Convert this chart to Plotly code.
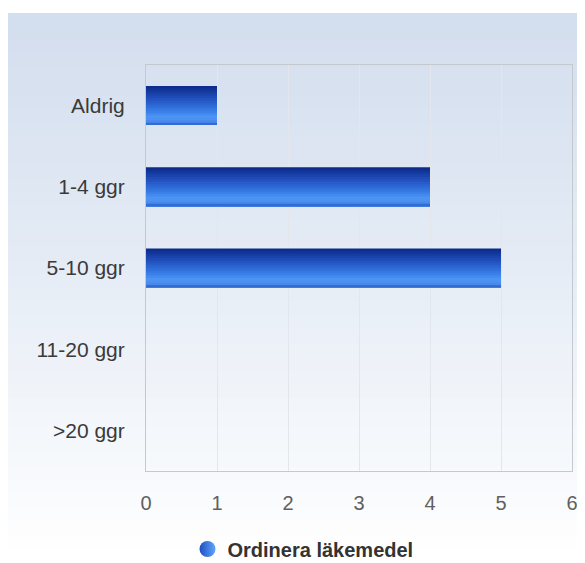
import plotly.graph_objects as go

# Data
categories = ["Aldrig", "1-4 ggr", "5-10 ggr", "11-20 ggr", ">20 ggr"]
values = [1, 4, 5, 0, 0]
series_name = "Ordinera läkemedel"
x_ticks = [0, 1, 2, 3, 4, 5, 6]


def mix(c1, c2, t):
    a = [int(c1[i:i + 2], 16) for i in (1, 3, 5)]
    b = [int(c2[i:i + 2], 16) for i in (1, 3, 5)]
    return "#%02x%02x%02x" % tuple(round(a[k] + (b[k] - a[k]) * t) for k in range(3))


# vertical colour stops of the bar gradient (0 = top edge, 1 = bottom edge)
stops = [(0.0, "#0b2888"), (0.35, "#2354c2"), (0.6, "#3478e2"),
         (0.8, "#4e96f6"), (0.9, "#4a8cee"), (1.0, "#2a5ec8")]


def grad_color(t):
    for (t0, c0), (t1, c1) in zip(stops, stops[1:]):
        if t <= t1:
            return mix(c0, c1, (t - t0) / (t1 - t0))
    return stops[-1][1]


fig = go.Figure()

# gradient bars: stacked overlays, each one covering from its band down to the bar bottom
bar_w = 0.48
n_bands = 16
band = bar_w / n_bands
for i in range(n_bands):
    t = (i + 0.5) / n_bands
    fig.add_trace(go.Bar(
        x=values,
        y=categories,
        orientation="h",
        width=bar_w - i * band,
        offset=-bar_w / 2,
        marker=dict(color=grad_color(t), line=dict(width=0)),
        showlegend=False,
        hoverinfo="x+y" if i == 0 else "skip",
        name=series_name,
    ))

# legend entry with round marker
fig.add_trace(go.Scatter(
    x=[None], y=[None], mode="markers", name=series_name,
    marker=dict(symbol="circle", size=21, color="#1e4fc0",
                gradient=dict(type="horizontal", color="#5fa5ff")),
    showlegend=True,
))

# page has an 8px body margin, so figure pixel = reference pixel - 8
W, H = 577, 555
pl, pr, pt, pb = 138, 564, 57, 463


def px_x(p):
    return (p - pl) / (pr - pl)


def px_y(p):
    return (pb - p) / (pb - pt)


# background gradient (light blue at top -> white at bottom)
shapes = []
n_bg = 40
top, bottom = 5, H
for i in range(n_bg):
    y0 = top + (bottom - top) * i / n_bg
    y1 = top + (bottom - top) * (i + 1) / n_bg
    shapes.append(dict(
        type="rect", xref="paper", yref="paper", layer="below",
        x0=px_x(0), x1=px_x(W), y0=px_y(y1) - 0.002, y1=px_y(y0),
        fillcolor=mix("#d3deee", "#ffffff", (i / (n_bg - 1)) ** 1.1),
        line=dict(width=0),
    ))

fig.update_layout(
    width=W,
    height=H,
    margin=dict(l=pl, r=W - pr, t=pt, b=H - pb, autoexpand=False),
    paper_bgcolor="#ffffff",
    plot_bgcolor="rgba(0,0,0,0)",
    font=dict(family="Liberation Sans, Arial, sans-serif", size=21, color="#333333"),
    barmode="overlay",
    shapes=shapes,
    xaxis=dict(
        range=[0, 6],
        tickvals=x_ticks,
        showgrid=True,
        gridcolor="#e3e6ea",
        gridwidth=1,
        zeroline=False,
        showline=True,
        linecolor="#c4c8cf",
        linewidth=1,
        mirror=True,
        ticks="",
        ticklabelstandoff=14,
        tickfont=dict(size=20, color="#606060"),
    ),
    yaxis=dict(
        type="category",
        categoryorder="array",
        categoryarray=categories[::-1],
        range=[-0.5, len(categories) - 0.5],
        showgrid=False,
        zeroline=False,
        showline=True,
        linecolor="#c4c8cf",
        linewidth=1,
        mirror=True,
        ticks="",
        ticklabelstandoff=16,
        tickfont=dict(size=21, color="#3a3a3a"),
    ),
    legend=dict(
        orientation="h",
        x=px_x(295),
        xanchor="center",
        y=px_y(541),
        yanchor="middle",
        bgcolor="rgba(0,0,0,0)",
        font=dict(size=20, color="#333333", weight="bold"),
        itemsizing="trace",
    ),
)

fig.write_html("out.html")
